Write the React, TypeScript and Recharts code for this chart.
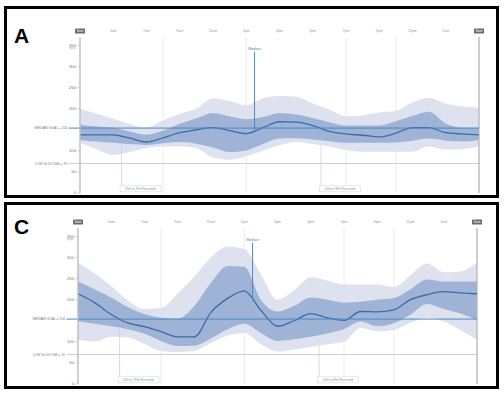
import {
  ComposedChart,
  Area,
  Line,
  XAxis,
  YAxis,
  CartesianGrid,
  ReferenceLine,
} from "recharts";

// hours since 3am (axis runs 3am -> 3am)
const hours = [0, 1, 2, 3, 4, 5, 6, 7, 8, 9, 10, 11, 12, 13, 14, 15, 16, 17, 18, 19, 20, 21, 22, 23, 24];
const xTicks = [0, 2, 4, 6, 8, 10, 12, 14, 16, 18, 20, 22, 24];
const xTickLabels = ["3am", "5am", "7am", "9am", "11am", "1pm", "3pm", "5pm", "7pm", "9pm", "11pm", "1am", "3am"];
const yTicks = [0, 50, 100, 200, 250, 300, 350];
const mealLines = [5, 10, 16, 19];

// panel A
const aP10 = [119, 104, 90, 97, 107, 110, 110, 106, 84, 79, 87, 100, 113, 121, 116, 110, 102, 98, 98, 98, 98, 110, 103, 104, 110];
const aP25 = [126, 122, 119, 116, 114, 118, 121, 117, 108, 97, 101, 116, 129, 130, 127, 123, 119, 119, 119, 120, 124, 129, 124, 122, 126];
const aMed = [138, 138, 138, 130, 121, 131, 143, 150, 155, 148, 141, 155, 169, 168, 160, 146, 140, 137, 133, 142, 155, 155, 143, 140, 138];
const aP75 = [162, 158, 155, 146, 138, 148, 164, 177, 190, 182, 175, 180, 190, 186, 178, 168, 160, 160, 160, 170, 183, 193, 165, 155, 155];
const aP90 = [200, 188, 176, 163, 155, 172, 188, 200, 224, 218, 208, 225, 230, 228, 212, 198, 182, 184, 191, 195, 215, 226, 212, 205, 202];

// panel C
const cP10 = [105, 101, 112, 110, 95, 78, 76, 79, 97, 115, 121, 95, 77, 82, 88, 94, 100, 133, 125, 128, 145, 157, 148, 128, 105];
const cP25 = [148, 143, 137, 130, 119, 102, 90, 91, 108, 130, 143, 121, 102, 106, 112, 120, 130, 148, 137, 144, 165, 190, 178, 167, 152];
const cMed = [214, 193, 165, 145, 136, 124, 112, 112, 170, 203, 221, 175, 137, 150, 167, 157, 151, 172, 171, 176, 200, 212, 219, 216, 214];
const cP75 = [243, 225, 205, 182, 166, 157, 155, 185, 240, 280, 278, 200, 172, 185, 205, 200, 193, 195, 200, 204, 225, 248, 243, 243, 243];
const cP90 = [288, 262, 232, 198, 178, 180, 215, 255, 300, 326, 320, 260, 200, 222, 253, 245, 236, 236, 236, 230, 258, 286, 265, 267, 288];

const MEDIAN_GOAL = 154;
const LOW_GLUCOSE = 70;

const OUTER = "#dde2ee";
const INNER = "#9fb3d7";
const MEDIAN = "#3b6ca6";
const GOAL = "#4a88c3";
const FONT = "Liberation Sans, Arial, sans-serif";

const XTick = ({ x, y, payload }: any) => {
  const i = xTicks.indexOf(payload.value);
  const label = xTickLabels[i];
  const boxed = i === 0 || i === xTicks.length - 1;
  return (
    <g>
      {boxed && <rect x={x - 5} y={y - 8.5} width={10} height={5} rx={0.6} fill="#6b6b6b" />}
      <text
        x={x}
        y={y - 6}
        dy="0.35em"
        textAnchor="middle"
        fontSize={3.6}
        fontFamily={FONT}
        fill={boxed ? "#fff" : "#999"}
      >
        {label}
      </text>
    </g>
  );
};

const YTick = ({ x, y, payload }: any) => (
  <g>
    <text x={x} y={y} dy="0.35em" textAnchor="end" fontSize={4.2} fontFamily={FONT} fill="#777">
      {payload.value}
    </text>
    {payload.value === 350 && (
      <text x={x} y={y + 4} textAnchor="end" fontSize={2.6} fontFamily={FONT} fill="#aaa">
        mg/dL
      </text>
    )}
  </g>
);

const Callout = ({ viewBox, text }: any) => {
  const bx = viewBox.x - 1.5;
  const by = viewBox.y + viewBox.height;
  return (
    <g>
      <rect x={bx} y={by} width={41} height={6} fill="#fff" stroke="#cfd7e8" strokeWidth={0.6} />
      <text
        x={bx + 20.5}
        y={by + 3}
        dy="0.35em"
        textAnchor="middle"
        fontSize={3.1}
        fontFamily={FONT}
        fill="#8c8c8c"
      >
        {text}
      </text>
    </g>
  );
};

interface PanelProps {
  p10: number[];
  p25: number[];
  med: number[];
  p75: number[];
  p90: number[];
  top: number;
  height: number;
  left: number;
  right: number;
  marginTop: number;
}

function AgpChart({ p10, p25, med, p75, p90, top, height, left, right, marginTop }: PanelProps) {
  const rows = hours.map((h, i) => ({
    h,
    outer: [p10[i], p90[i]],
    inner: [p25[i], p75[i]],
    med: med[i],
  }));
  const medianAt = (med[10] + med[11]) / 2;
  const innerEdge = (p25[2] + p25[3]) / 2;
  const outerEdge = (p10[14] + p10[15]) / 2;

  return (
    <div style={{ position: "absolute", left: 0, top }}>
      <ComposedChart
        width={504}
        height={height}
        data={rows}
        margin={{ top: marginTop, right, left: left - 40, bottom: 3 }}
      >
        <CartesianGrid horizontal={false} verticalValues={mealLines} stroke="#e6e6e6" strokeWidth={0.8} />
        <XAxis
          dataKey="h"
          type="number"
          orientation="top"
          domain={[0, 24]}
          ticks={xTicks}
          tick={<XTick />}
          tickSize={0}
          tickMargin={0}
          axisLine={false}
          height={12}
          interval={0}
        />
        <YAxis
          type="number"
          domain={[0, 370]}
          ticks={yTicks}
          tick={<YTick />}
          tickSize={3}
          tickMargin={1}
          width={40}
          axisLine={{ stroke: "#bdbdbd", strokeWidth: 1.4 }}
          tickLine={{ stroke: "#bdbdbd", strokeWidth: 0.6 }}
          interval={0}
        />
        <Area
          dataKey="outer"
          type="monotone"
          fill={OUTER}
          fillOpacity={1}
          stroke="none"
          isAnimationActive={false}
        />
        <Area
          dataKey="inner"
          type="monotone"
          fill={INNER}
          fillOpacity={1}
          stroke="none"
          isAnimationActive={false}
        />
        <ReferenceLine
          ifOverflow="visible"
          segment={[{ x: -0.7, y: LOW_GLUCOSE }, { x: 24, y: LOW_GLUCOSE }]}
          stroke="#cfcfcf"
          strokeWidth={1}
          label={{ value: `LOW GLUCOSE = ${LOW_GLUCOSE}`, position: "left", offset: 1.5, fontSize: 3.3, fill: "#777", fontFamily: FONT }}
        />
        <ReferenceLine
          ifOverflow="visible"
          segment={[{ x: 24, y: 0 }, { x: 24, y: 370 }]}
          stroke="#b5b5b5"
          strokeWidth={1.3}
        />
        <ReferenceLine
          ifOverflow="visible"
          segment={[{ x: 2.5, y: 17 }, { x: 2.5, y: innerEdge }]}
          stroke="#c8d2e6"
          strokeWidth={0.8}
          label={<Callout text="25th to 75th Percentile" />}
        />
        <ReferenceLine
          ifOverflow="visible"
          segment={[{ x: 14.5, y: 17 }, { x: 14.5, y: outerEdge }]}
          stroke="#c8d2e6"
          strokeWidth={0.8}
          label={<Callout text="10th to 90th Percentile" />}
        />
        <Line
          dataKey="med"
          type="monotone"
          stroke={MEDIAN}
          strokeWidth={1.3}
          dot={false}
          isAnimationActive={false}
        />
        <ReferenceLine
          ifOverflow="visible"
          segment={[{ x: -0.7, y: MEDIAN_GOAL }, { x: 24, y: MEDIAN_GOAL }]}
          stroke={GOAL}
          strokeWidth={1}
          label={{ value: `MEDIAN GOAL = ${MEDIAN_GOAL}`, position: "left", offset: 1.5, fontSize: 3.3, fill: "#777", fontFamily: FONT }}
        />
        <ReferenceLine
          ifOverflow="visible"
          segment={[{ x: 10.5, y: medianAt }, { x: 10.5, y: 335 }]}
          stroke={GOAL}
          strokeWidth={1}
          label={{ value: "Median", position: "top", offset: 1.5, fontSize: 3.8, fill: GOAL, fontFamily: FONT }}
        />
      </ComposedChart>
    </div>
  );
}

const panelStyle = (top: number, height: number): React.CSSProperties => ({
  position: "absolute",
  left: 4,
  top,
  width: 495,
  height,
  border: "3px solid #000",
  boxSizing: "border-box",
  background: "#fff",
});

const letterStyle = (top: number): React.CSSProperties => ({
  position: "absolute",
  left: 14,
  top,
  fontFamily: FONT,
  fontWeight: 700,
  fontSize: 21,
  lineHeight: "21px",
  color: "#000",
});

export default function App() {
  return (
    <div style={{ position: "absolute", left: 0, top: 0, width: 504, height: 395, background: "#fff" }}>
      <div style={panelStyle(6, 192)} />
      <div style={panelStyle(202, 187)} />
      <div style={letterStyle(25)}>A</div>
      <div style={letterStyle(216)}>C</div>
      <AgpChart p10={aP10} p25={aP25} med={aMed} p75={aP75} p90={aP90} top={0} height={196} left={80} right={25} marginTop={25} />
      <AgpChart p10={cP10} p25={cP25} med={cMed} p75={cP75} p90={cP90} top={200} height={187} left={78} right={27} marginTop={16} />
    </div>
  );
}
